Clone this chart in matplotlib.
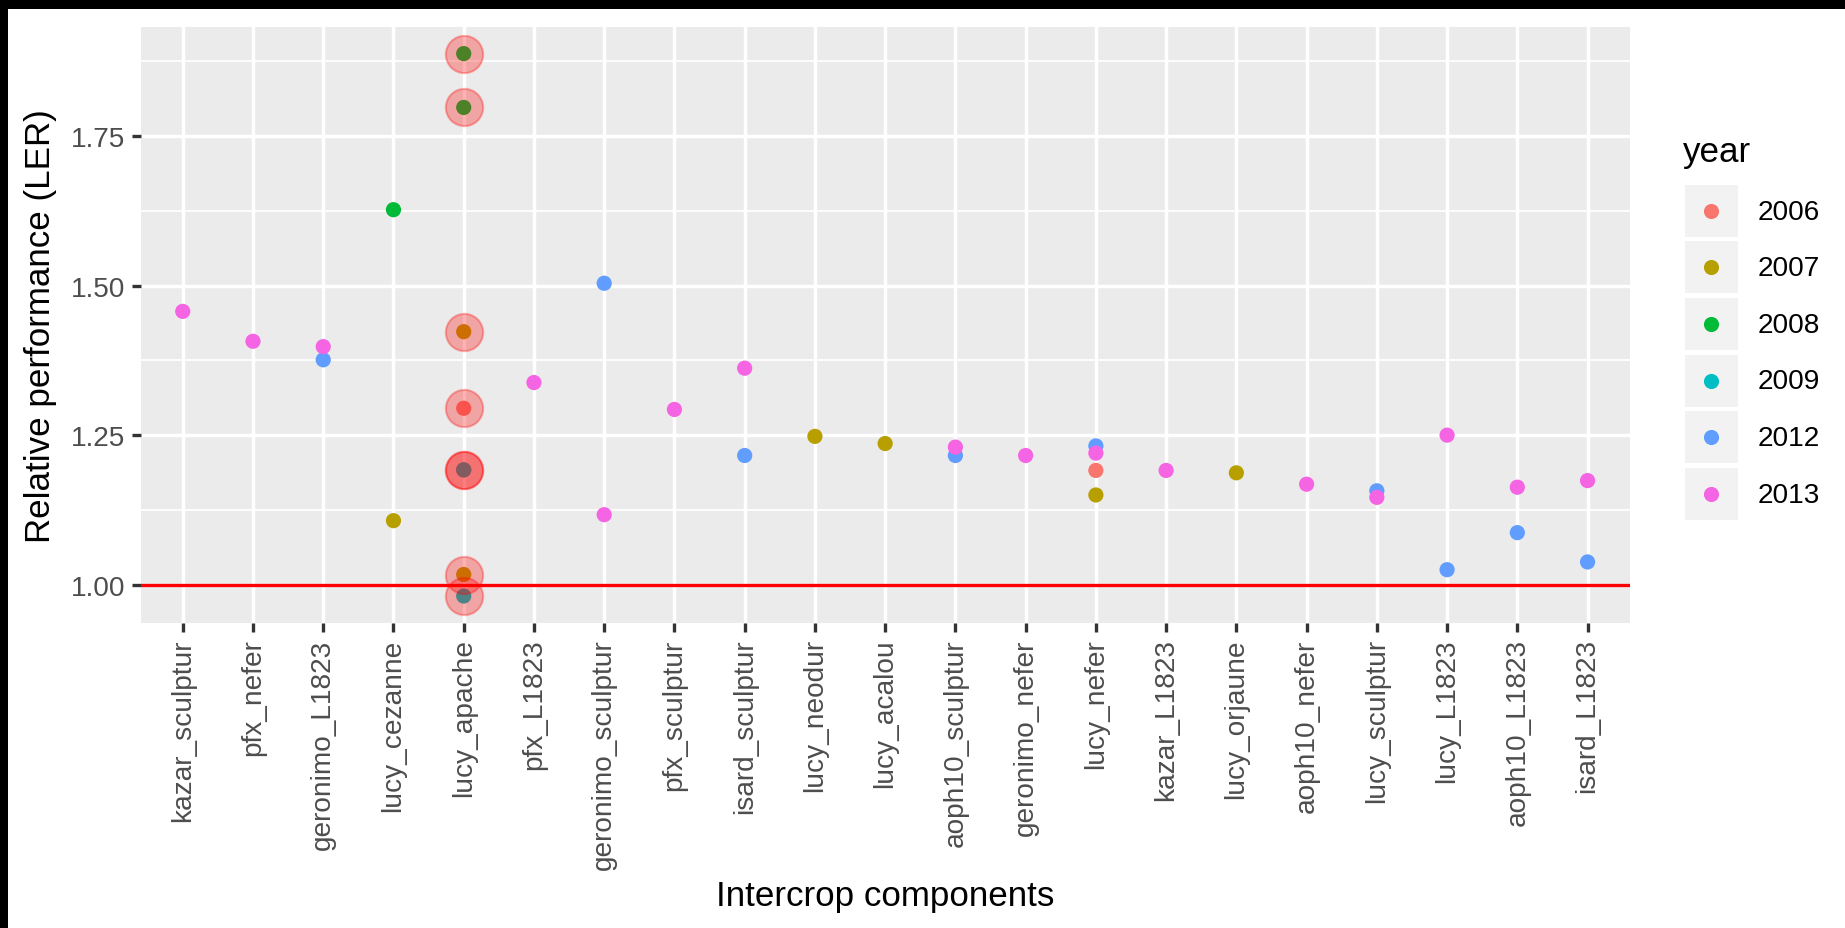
import matplotlib
matplotlib.use("Agg")
import matplotlib.pyplot as plt
from matplotlib.patches import Rectangle

plt.rcParams["font.family"] = ["Liberation Sans", "DejaVu Sans"]

# Intercrop components in display order
components = [
    "kazar_sculptur", "pfx_nefer", "geronimo_L1823", "lucy_cezanne", "lucy_apache",
    "pfx_L1823", "geronimo_sculptur", "pfx_sculptur", "isard_sculptur", "lucy_neodur",
    "lucy_acalou", "aoph10_sculptur", "geronimo_nefer", "lucy_nefer", "kazar_L1823",
    "lucy_orjaune", "aoph10_nefer", "lucy_sculptur", "lucy_L1823", "aoph10_L1823",
    "isard_L1823",
]

# One row per observation: component, year, land equivalent ratio
obs_component = [
    "kazar_sculptur",
    "pfx_nefer",
    "geronimo_L1823", "geronimo_L1823",
    "lucy_cezanne", "lucy_cezanne",
    "lucy_apache", "lucy_apache", "lucy_apache", "lucy_apache", "lucy_apache",
    "lucy_apache", "lucy_apache", "lucy_apache",
    "pfx_L1823",
    "geronimo_sculptur", "geronimo_sculptur",
    "pfx_sculptur",
    "isard_sculptur", "isard_sculptur",
    "lucy_neodur",
    "lucy_acalou",
    "aoph10_sculptur", "aoph10_sculptur",
    "geronimo_nefer",
    "lucy_nefer", "lucy_nefer", "lucy_nefer", "lucy_nefer",
    "kazar_L1823",
    "lucy_orjaune",
    "aoph10_nefer",
    "lucy_sculptur", "lucy_sculptur",
    "lucy_L1823", "lucy_L1823",
    "aoph10_L1823", "aoph10_L1823",
    "isard_L1823", "isard_L1823",
]
obs_year = [
    2013,
    2013,
    2012, 2013,
    2008, 2007,
    2008, 2008, 2007, 2006, 2012, 2009, 2007, 2009,
    2013,
    2012, 2013,
    2013,
    2013, 2012,
    2007,
    2007,
    2012, 2013,
    2013,
    2012, 2013, 2006, 2007,
    2013,
    2007,
    2013,
    2012, 2013,
    2013, 2012,
    2013, 2012,
    2013, 2012,
]
obs_ler = [
    1.457,
    1.407,
    1.376, 1.398,
    1.627, 1.107,
    1.888, 1.798, 1.423, 1.295, 1.192, 1.192, 1.017, 0.981,
    1.338,
    1.504, 1.117,
    1.293,
    1.362, 1.216,
    1.248,
    1.236,
    1.216, 1.230,
    1.216,
    1.232, 1.220, 1.191, 1.150,
    1.191,
    1.187,
    1.168,
    1.157, 1.146,
    1.250, 1.025,
    1.163, 1.087,
    1.174, 1.038,
]

years = [2006, 2007, 2008, 2009, 2012, 2013]
year_colors = ["#F8766D", "#B79F00", "#00BA38", "#00BFC4", "#619CFF", "#F564E3"]
highlight_component = "lucy_apache"
y_ticks = [1.00, 1.25, 1.50, 1.75]
y_minor = [1.125, 1.375, 1.625, 1.875]

W, H = 1845, 929
fig = plt.figure(figsize=(W / 100, H / 100), dpi=100)
fig.patch.set_facecolor("white")

left_px, right_px, top_px, bottom_px = 140.6, 1629.7, 28.3, 624.3
ax = fig.add_axes([left_px / W, 1 - bottom_px / H,
                   (right_px - left_px) / W, (bottom_px - top_px) / H])
ax.set_facecolor("#EBEBEB")
for s in ax.spines.values():
    s.set_visible(False)

xpos = {c: i for i, c in enumerate(components)}
color_of = dict(zip(years, year_colors))

# grid
for yv in y_minor:
    ax.axhline(yv, color="white", lw=1.25, zorder=1)
for yv in y_ticks:
    ax.axhline(yv, color="white", lw=2.45, zorder=1)
for i in range(len(components)):
    ax.axvline(i, color="white", lw=2.45, zorder=1)

# points, drawn in row order
ax.scatter([xpos[c] for c in obs_component], obs_ler, s=120,
           c=[color_of[y] for y in obs_year], edgecolors="none", zorder=3)

# highlighted component
hx = [xpos[c] for c in obs_component if c == highlight_component]
hv = [v for c, v in zip(obs_component, obs_ler) if c == highlight_component]
ax.scatter(hx, hv, s=720, facecolor="red", edgecolor="red", linewidths=1.5,
           alpha=0.3, zorder=4)

ax.axhline(1.0, color="#FF0000", lw=2.4, zorder=5)

ax.set_xlim(-0.6, len(components) - 0.4)
ax.set_ylim(0.9354, 1.932)
ax.set_xticks(range(len(components)))
ax.set_xticklabels(components, rotation=90, ha="center", va="top")
ax.set_yticks(y_ticks)
ax.set_yticklabels([f"{v:.2f}" for v in y_ticks])
ax.tick_params(axis="both", length=6.3, width=2.4, color="#333333",
               labelcolor="#4D4D4D", labelsize=20.2, pad=4.5)

fig.text(885 / W, 1 - 897 / H, "Intercrop components", ha="center", va="center",
         fontsize=25.2, color="black")
fig.text(41 / W, 1 - 326 / H, "Relative performance (LER)", ha="center",
         va="center", rotation=90, fontsize=25.2, color="black")

# legend
fig.text(1683 / W, 1 - 161.7 / H, "year", ha="left", va="baseline",
         fontsize=25.2, color="black")
for i, (yr, col) in enumerate(zip(years, year_colors)):
    top = 185.7 + 56.6 * i
    fig.patches.append(Rectangle((1685 / W, 1 - (top + 52) / H), 52.7 / W, 52 / H,
                                 transform=fig.transFigure, facecolor="#F2F2F2",
                                 edgecolor="none"))
    cy = top + 26
    fig.add_artist(plt.Line2D([1711.4 / W], [1 - cy / H], marker="o",
                              markersize=10.9, color=col, markeredgewidth=0,
                              linestyle="none", transform=fig.transFigure))
    fig.text(1757.3 / W, 1 - (cy + 1) / H, str(yr), ha="left", va="center",
             fontsize=20.2, color="black")

# dark frame strips along the top and left edges
fig.patches.append(Rectangle((0, 1 - 9.5 / H), 1, 9.5 / H, transform=fig.transFigure,
                             facecolor="black", edgecolor="none", zorder=10))
fig.patches.append(Rectangle((0, 0), 7.5 / W, 1, transform=fig.transFigure,
                             facecolor="black", edgecolor="none", zorder=10))

fig.savefig("out.png", dpi=100)
